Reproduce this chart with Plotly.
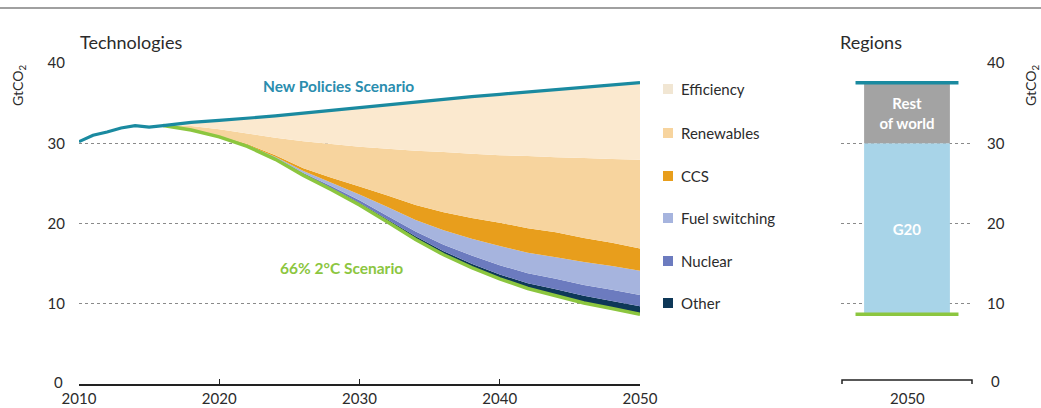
import plotly.graph_objects as go

W, H = 1041, 408

# ---------------- data ----------------
hist_years = [2010, 2011, 2012, 2013, 2014, 2015, 2016]
hist_emissions = [30.2, 31.0, 31.4, 31.9, 32.2, 32.0, 32.2]

years = [2016, 2018, 2020, 2022, 2024, 2026, 2028, 2030, 2032, 2034,
         2036, 2038, 2040, 2042, 2044, 2046, 2048, 2050]
new_policies = [32.2, 32.6, 32.85, 33.1, 33.4, 33.75, 34.1, 34.45, 34.8, 35.15,
                35.5, 35.8, 36.1, 36.4, 36.65, 36.95, 37.25, 37.55]
two_degree = [32.2, 31.65, 30.8, 29.6, 28.0, 26.0, 24.2, 22.3, 20.2, 18.0,
              16.1, 14.5, 13.1, 11.9, 11.0, 10.1, 9.4, 8.7]

other = [0, 0.01, 0.03, 0.05, 0.08, 0.12, 0.18, 0.25, 0.3, 0.4,
         0.45, 0.5, 0.55, 0.65, 0.8, 0.9, 0.95, 1.0]
nuclear = [0, 0.01, 0.03, 0.06, 0.1, 0.16, 0.25, 0.35, 0.45, 0.6,
           0.8, 1.0, 1.15, 1.25, 1.3, 1.35, 1.4, 1.4]
fuel_switching = [0, 0.01, 0.04, 0.09, 0.14, 0.27, 0.45, 0.7, 1.1, 1.45,
                  1.8, 2.1, 2.4, 2.55, 2.7, 2.85, 2.95, 3.0]
ccs = [0, 0.02, 0.05, 0.1, 0.18, 0.35, 0.62, 1.0, 1.45, 1.85,
       2.25, 2.6, 2.9, 3.05, 3.1, 3.0, 2.9, 2.8]
renewables = [0, 0.45, 0.8, 1.3, 2.2, 3.35, 4.2, 4.95, 5.8, 6.75,
              7.5, 8.0, 8.4, 9.0, 9.35, 9.95, 10.45, 11.05]
efficiency = [0, 0.45, 1.1, 1.9, 2.7, 3.5, 4.2, 4.9, 5.5, 6.1,
              6.6, 7.1, 7.6, 8.0, 8.4, 8.8, 9.2, 9.6]

tech_names = ["Other", "Nuclear", "Fuel switching", "CCS", "Renewables", "Efficiency"]
tech_values = [other, nuclear, fuel_switching, ccs, renewables, efficiency]
tech_colors = ["#0E3858", "#6C7BBF", "#A6B4DE", "#E89E1C", "#F7D49E", "#FBE9CF"]

region_year = ["2050"]
regions = ["G20", "Rest<br>of world"]
region_reduction = [21.3, 7.55]
region_colors = ["#A8D4E8", "#A3A3A3"]

x_ticks = [2010, 2020, 2030, 2040, 2050]
y_ticks = [0, 10, 20, 30, 40]

NPS_COLOR = "#1A8AA0"
TDS_COLOR = "#8CC63F"
FONT = "Lato, 'Open Sans', sans-serif"
TXT = "#2b2b2b"


def px(x):
    return x / W


def py(y):
    return 1 - y / H


fig = go.Figure()

# base of the stack (2°C scenario level, invisible)
fig.add_trace(go.Scatter(x=years, y=two_degree, stackgroup="tech", mode="none",
                         fillcolor="rgba(0,0,0,0)", showlegend=False, hoverinfo="skip"))
for name, vals, col in zip(tech_names, tech_values, tech_colors):
    fig.add_trace(go.Scatter(x=years, y=vals, stackgroup="tech", mode="none",
                             fillcolor=col, name=name, showlegend=False))

# scenario lines
fig.add_trace(go.Scatter(x=years, y=two_degree, mode="lines",
                         line=dict(color=TDS_COLOR, width=3.5), showlegend=False))
fig.add_trace(go.Scatter(x=hist_years + years[1:], y=hist_emissions + new_policies[1:],
                         mode="lines", line=dict(color=NPS_COLOR, width=3.2),
                         showlegend=False))

# regions panel
bar_bases = [two_degree[-1], two_degree[-1] + region_reduction[0]]
for name, val, base, col in zip(regions, region_reduction, bar_bases, region_colors):
    fig.add_trace(go.Bar(x=region_year, y=[val], base=[base], marker_color=col,
                         marker_line_width=0, width=0.65, text=[f"<b>{name}</b>"],
                         textposition="inside", insidetextanchor="middle",
                         textfont=dict(color="white", size=15, family=FONT),
                         xaxis="x2", yaxis="y2", showlegend=False, name=name))

grid = dict(showgrid=True, gridcolor="#8a8a8a", griddash="dot", gridwidth=1,
            zeroline=False, automargin=False)

fig.update_layout(
    width=W, height=H,
    margin=dict(l=0, r=0, t=0, b=0, pad=0),
    autosize=False,
    paper_bgcolor="white", plot_bgcolor="rgba(0,0,0,0)",
    font=dict(family=FONT, color=TXT, size=15),
    barmode="overlay",
    xaxis=dict(domain=[px(79), px(640)], range=[2010, 2050], tickvals=x_ticks,
               showgrid=False, zeroline=False, showline=True, linecolor="#222",
               linewidth=1.5, ticks="inside", ticklen=5, tickcolor="#222",
               tickfont=dict(size=15, color=TXT), automargin=False),
    yaxis=dict(domain=[py(384), py(63)], range=[0, 40], tickvals=y_ticks[1:],
               ticklabelstandoff=13, tickfont=dict(size=15, color=TXT), **grid),
    xaxis2=dict(domain=[px(841), px(973)], range=[-0.5, 0.5], anchor="y2",
                showgrid=False, zeroline=False, showline=False, ticks="",
                showticklabels=False, automargin=False),
    yaxis2=dict(domain=[py(384), py(63)], range=[0, 40], anchor="x2", side="right",
                tickvals=y_ticks[1:], ticklabelstandoff=13,
                tickfont=dict(size=15, color=TXT), **grid),
)

shapes = []
# top border
shapes.append(dict(type="line", xref="paper", yref="paper", x0=0, x1=1,
                   y0=py(8), y1=py(8), line=dict(color="#808080", width=1.5)))
# scenario markers on regions bar
for val, col in [(new_policies[-1], NPS_COLOR), (two_degree[-1], TDS_COLOR)]:
    shapes.append(dict(type="line", xref="x2", yref="y2", x0=-0.39, x1=0.39,
                       y0=val, y1=val, line=dict(color=col, width=3.5), layer="above"))
# bracket axis for regions panel
shapes.append(dict(type="path", xref="paper", yref="paper",
                   path=f"M {px(842)} {py(384)} L {px(842)} {py(380)} L {px(972)} {py(380)} L {px(972)} {py(384)}",
                   line=dict(color="#222", width=1.5)))

# manual legend
legend_y = [89, 133, 176, 218, 261, 303]
for name, col, yy in zip(tech_names[::-1], tech_colors[::-1], legend_y):
    shapes.append(dict(type="rect", xref="paper", yref="paper",
                       x0=px(663), x1=px(673), y0=py(yy + 5), y1=py(yy - 5),
                       fillcolor=col if name != "Efficiency" else "#F1E6D3",
                       line=dict(width=0)))
fig.update_layout(shapes=shapes)

ann = []
for name, yy in zip(tech_names[::-1], legend_y):
    ann.append(dict(text=name, xref="paper", yref="paper", x=px(679), y=py(yy),
                    xanchor="left", yanchor="middle", showarrow=False,
                    font=dict(size=15, color=TXT)))
ann += [
    dict(text="Technologies", xref="paper", yref="paper", x=px(78), y=py(42),
         xanchor="left", yanchor="middle", showarrow=False,
         font=dict(size=18, color=TXT)),
    dict(text="Regions", xref="paper", yref="paper", x=px(838), y=py(42),
         xanchor="left", yanchor="middle", showarrow=False,
         font=dict(size=18, color=TXT)),
    dict(text="GtCO<sub>2</sub>", xref="paper", yref="paper", x=px(18), y=py(86),
         textangle=-90, xanchor="center", yanchor="middle", showarrow=False,
         font=dict(size=14, color=TXT)),
    dict(text="GtCO<sub>2</sub>", xref="paper", yref="paper", x=px(1031), y=py(86),
         textangle=-90, xanchor="center", yanchor="middle", showarrow=False,
         font=dict(size=14, color=TXT)),
    dict(text="0", xref="paper", yref="paper", x=px(995), y=py(381),
         xanchor="center", yanchor="middle", showarrow=False,
         font=dict(size=15, color=TXT)),
    dict(text="0", xref="paper", yref="paper", x=px(58), y=py(382),
         xanchor="center", yanchor="middle", showarrow=False,
         font=dict(size=15, color=TXT)),
    dict(text="2050", xref="paper", yref="paper", x=px(907), y=py(398),
         xanchor="center", yanchor="middle", showarrow=False,
         font=dict(size=15, color=TXT)),
    dict(text="<b>New Policies Scenario</b>", xref="paper", yref="paper",
         x=px(338), y=py(86), xanchor="center", yanchor="middle", showarrow=False,
         font=dict(size=15.5, color="#2A8DAE")),
    dict(text="<b>66% 2°C Scenario</b>", xref="paper", yref="paper",
         x=px(341), y=py(268), xanchor="center", yanchor="middle", showarrow=False,
         font=dict(size=15.5, color=TDS_COLOR)),
]
fig.update_layout(annotations=ann)

fig.write_html("out.html", config={"displayModeBar": False},
               post_script="document.body.style.margin='0px';")
